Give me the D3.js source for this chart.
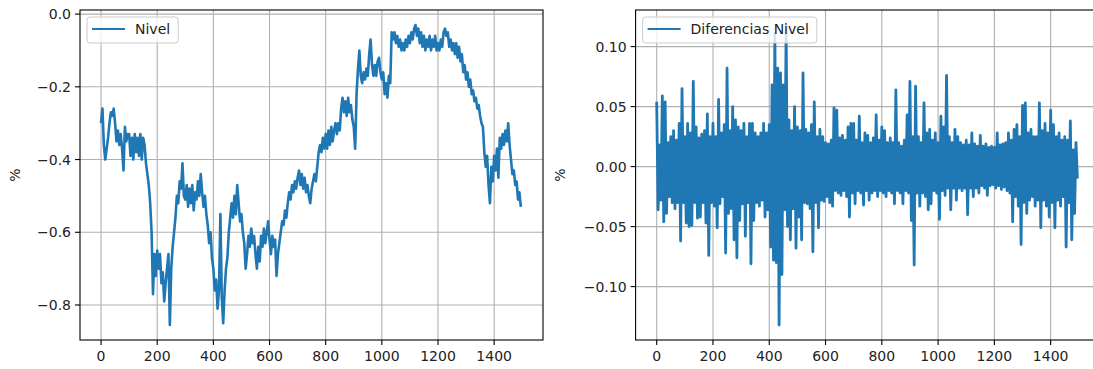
<!DOCTYPE html>
<html><head><meta charset="utf-8">
<script src="https://cdn.jsdelivr.net/npm/d3@7"></script>
<style>body{margin:0;background:#fff} text{font-family:"DejaVu Sans",sans-serif;fill:#222}</style>
</head><body><svg id="c" width="1093" height="369"></svg>
<script>
// sampling stride (observation index between consecutive values)
const STEP = 5;
const N_OBS = 1500;

const nivel = [
-0.30,-0.26,-0.36,-0.40,-0.37,-0.34,-0.30,-0.27,-0.28,-0.26,-0.30,-0.35,-0.32,-0.36,-0.33,-0.37,-0.43,-0.31,-0.35,-0.33,
-0.33,-0.39,-0.34,-0.40,-0.33,-0.38,-0.34,-0.39,-0.33,-0.40,-0.34,-0.36,-0.41,-0.44,-0.47,-0.52,-0.60,-0.77,-0.66,-0.72,
-0.65,-0.70,-0.66,-0.74,-0.71,-0.79,-0.74,-0.70,-0.66,-0.855,-0.70,-0.64,-0.60,-0.56,-0.50,-0.52,-0.46,-0.48,-0.41,-0.50,
-0.51,-0.47,-0.53,-0.48,-0.52,-0.47,-0.54,-0.49,-0.51,-0.46,-0.50,-0.44,-0.49,-0.53,-0.50,-0.55,-0.58,-0.63,-0.60,-0.67,
-0.70,-0.76,-0.73,-0.81,-0.76,-0.55,-0.78,-0.85,-0.76,-0.70,-0.67,-0.60,-0.56,-0.52,-0.56,-0.50,-0.55,-0.47,-0.52,-0.57,
-0.55,-0.60,-0.63,-0.70,-0.66,-0.61,-0.64,-0.59,-0.63,-0.61,-0.66,-0.70,-0.64,-0.68,-0.61,-0.64,-0.59,-0.63,-0.60,-0.57,
-0.62,-0.66,-0.61,-0.64,-0.62,-0.72,-0.66,-0.63,-0.60,-0.57,-0.58,-0.54,-0.56,-0.52,-0.49,-0.51,-0.47,-0.49,-0.46,-0.48,
-0.45,-0.43,-0.47,-0.44,-0.48,-0.45,-0.49,-0.47,-0.50,-0.52,-0.48,-0.46,-0.44,-0.46,-0.42,-0.38,-0.36,-0.38,-0.34,-0.37,
-0.33,-0.37,-0.32,-0.36,-0.31,-0.35,-0.32,-0.30,-0.33,-0.30,-0.32,-0.26,-0.23,-0.27,-0.24,-0.28,-0.23,-0.27,-0.25,-0.29,
-0.31,-0.37,-0.22,-0.15,-0.10,-0.17,-0.19,-0.16,-0.18,-0.15,-0.17,-0.11,-0.07,-0.14,-0.17,-0.14,-0.17,-0.13,-0.12,-0.16,
-0.18,-0.16,-0.22,-0.19,-0.23,-0.17,-0.19,-0.05,-0.07,-0.05,-0.08,-0.06,-0.09,-0.07,-0.10,-0.08,-0.10,-0.07,-0.09,-0.06,
-0.08,-0.05,-0.07,-0.04,-0.03,-0.06,-0.04,-0.08,-0.05,-0.09,-0.06,-0.10,-0.07,-0.09,-0.06,-0.10,-0.07,-0.09,-0.06,-0.10,
-0.08,-0.10,-0.07,-0.09,-0.05,-0.04,-0.06,-0.05,-0.09,-0.07,-0.10,-0.08,-0.11,-0.08,-0.12,-0.09,-0.13,-0.11,-0.16,-0.14,
-0.18,-0.16,-0.20,-0.18,-0.22,-0.21,-0.24,-0.23,-0.26,-0.25,-0.28,-0.30,-0.31,-0.38,-0.42,-0.39,-0.47,-0.52,-0.42,-0.46,
-0.39,-0.43,-0.37,-0.45,-0.34,-0.37,-0.33,-0.36,-0.32,-0.35,-0.30,-0.36,-0.40,-0.44,-0.43,-0.47,-0.46,-0.51,-0.49,-0.53
];

const diferencias = [
0.054,-0.036,0.018,-0.028,0.059,-0.046,0.054,-0.039,0.020,-0.025,0.025,-0.030,0.030,-0.035,0.022,-0.030,0.036,-0.062,0.065,-0.030,
0.025,-0.047,0.036,-0.050,0.028,-0.049,0.071,-0.030,0.033,-0.043,0.024,-0.042,0.027,-0.030,0.030,-0.047,0.044,-0.074,0.025,-0.030,
0.036,-0.033,0.025,-0.051,0.056,-0.031,0.028,-0.025,0.035,-0.072,0.082,-0.039,0.030,-0.035,0.050,-0.061,0.039,-0.076,0.033,-0.045,
0.030,-0.031,0.036,-0.058,0.025,-0.030,0.036,-0.081,0.036,-0.045,0.028,-0.030,0.025,-0.033,0.028,-0.028,0.036,-0.042,0.028,-0.036,
0.035,-0.067,0.068,-0.078,0.111,-0.080,0.082,-0.132,0.078,-0.090,0.068,-0.036,0.118,-0.050,0.039,-0.061,0.030,-0.035,0.050,-0.068,
0.033,-0.042,0.030,-0.061,0.078,-0.030,0.031,-0.031,0.028,-0.035,0.035,-0.071,0.054,-0.030,0.025,-0.051,0.031,-0.028,0.025,-0.029,
0.020,-0.025,0.019,-0.030,0.022,-0.033,0.049,-0.020,0.047,-0.022,0.024,-0.024,0.026,-0.020,0.022,-0.025,0.033,-0.042,0.036,-0.022,
0.036,-0.031,0.022,-0.020,0.042,-0.022,0.020,-0.032,0.028,-0.020,0.026,-0.028,0.020,-0.022,0.024,-0.020,0.043,-0.025,0.022,-0.020,
0.033,-0.022,0.030,-0.025,0.020,-0.020,0.024,-0.022,0.020,-0.031,0.064,-0.020,0.020,-0.022,0.017,-0.031,0.022,-0.020,0.043,-0.022,
0.071,-0.045,0.025,-0.082,0.067,-0.022,0.025,-0.033,0.020,-0.022,0.053,-0.025,0.028,-0.036,0.031,-0.031,0.022,-0.020,0.028,-0.022,
0.020,-0.044,0.042,-0.020,0.033,-0.024,0.076,-0.018,0.025,-0.036,0.020,-0.018,0.031,-0.028,0.025,-0.018,0.020,-0.020,0.018,-0.018,
0.022,-0.040,0.018,-0.018,0.028,-0.025,0.019,-0.018,0.017,-0.022,0.026,-0.016,0.017,-0.018,0.019,-0.024,0.016,-0.016,0.017,-0.015,
0.016,-0.018,0.028,-0.016,0.018,-0.019,0.019,-0.017,0.020,-0.020,0.028,-0.022,0.022,-0.046,0.031,-0.025,0.035,-0.033,0.025,-0.065,
0.051,-0.030,0.053,-0.039,0.028,-0.028,0.031,-0.025,0.025,-0.033,0.025,-0.028,0.053,-0.051,0.030,-0.028,0.036,-0.033,0.028,-0.042,
0.047,-0.030,0.035,-0.051,0.025,-0.028,0.028,-0.033,0.022,-0.025,0.025,-0.067,0.022,-0.030,0.038,-0.061,0.014,-0.039,0.020,-0.010
];

const xTicks = [0, 200, 400, 600, 800, 1000, 1200, 1400];
const xTickLabels = ["0", "200", "400", "600", "800", "1000", "1200", "1400"];
const nivelTicks = [0.0, -0.2, -0.4, -0.6, -0.8];
const nivelTickLabels = ["0.0", "\u22120.2", "\u22120.4", "\u22120.6", "\u22120.8"];
const difTicks = [0.10, 0.05, 0.00, -0.05, -0.10];
const difTickLabels = ["0.10", "0.05", "0.00", "\u22120.05", "\u22120.10"];

const svg = d3.select("#c");
svg.append("rect").attr("width", 1093).attr("height", 369).attr("fill", "#fff");

const COLOR = "#1f77b4";
const FS = 14;

function panel(opt) {
  const { x0, x1, y0, y1, values, yTicks, yLabels, legend, yLabelX, id, lw } = opt;
  const g = svg.append("g");
  const pad = 0.05 * (N_OBS - 1);
  const x = d3.scaleLinear().domain([-pad, N_OBS - 1 + pad]).range([x0, x1]);
  const [mn, mx] = d3.extent(values);
  const yp = 0.05 * (mx - mn);
  const y = d3.scaleLinear().domain([mn - yp, mx + yp]).range([y1, y0]);

  g.append("clipPath").attr("id", id).append("rect")
    .attr("x", x0).attr("y", y0).attr("width", x1 - x0).attr("height", y1 - y0);

  // grid
  const grid = g.append("g").attr("stroke", "#b0b0b0").attr("stroke-width", 1.1);
  grid.selectAll(".vx").data(xTicks).join("line")
    .attr("x1", d => x(d)).attr("x2", d => x(d)).attr("y1", y0).attr("y2", y1);
  grid.selectAll(".hy").data(yTicks).join("line")
    .attr("y1", d => y(d)).attr("y2", d => y(d)).attr("x1", x0).attr("x2", x1);

  // series
  const line = d3.line().x((d, i) => x(i * STEP)).y(d => y(d));
  g.append("path").datum(values)
    .attr("clip-path", `url(#${id})`)
    .attr("d", line).attr("fill", "none").attr("stroke", COLOR)
    .attr("stroke-width", lw).attr("stroke-linejoin", "round");

  // frame
  g.append("rect").attr("x", x0).attr("y", y0).attr("width", x1 - x0).attr("height", y1 - y0)
    .attr("fill", "none").attr("stroke", "#000").attr("stroke-width", 1.1);

  // x axis ticks
  const xa = g.append("g");
  xa.selectAll("line").data(xTicks).join("line")
    .attr("x1", d => x(d)).attr("x2", d => x(d)).attr("y1", y1).attr("y2", y1 + 5)
    .attr("stroke", "#000").attr("stroke-width", 1.1);
  xa.selectAll("text").data(xTicks).join("text")
    .attr("x", d => x(d)).attr("y", y1 + 21).attr("text-anchor", "middle")
    .attr("font-size", FS).text((d, i) => xTickLabels[i]);

  // y axis ticks
  const ya = g.append("g");
  ya.selectAll("line").data(yTicks).join("line")
    .attr("y1", d => y(d)).attr("y2", d => y(d)).attr("x1", x0 - 5).attr("x2", x0)
    .attr("stroke", "#000").attr("stroke-width", 1.1);
  ya.selectAll("text").data(yTicks).join("text")
    .attr("x", x0 - 9).attr("y", d => y(d)).attr("dy", "0.36em").attr("text-anchor", "end")
    .attr("font-size", FS).text((d, i) => yLabels[i]);

  // y label
  g.append("text").attr("transform", `translate(${yLabelX},${(y0 + y1) / 2}) rotate(-90)`)
    .attr("text-anchor", "middle").attr("font-size", FS).text("%");

  // legend
  const lg = g.append("g");
  const bx = x0 + 7, by = y0 + 7;
  const box = lg.append("rect").attr("x", bx).attr("y", by).attr("height", 26).attr("rx", 3)
    .attr("fill", "#fff").attr("fill-opacity", 0.8).attr("stroke", "#cccccc").attr("stroke-width", 1);
  lg.append("line").attr("x1", bx + 5).attr("x2", bx + 38).attr("y1", by + 12).attr("y2", by + 12)
    .attr("stroke", COLOR).attr("stroke-width", 2.2);
  const t = lg.append("text").attr("x", bx + 48).attr("y", by + 17).attr("font-size", FS).text(legend);
  const w = t.node().getComputedTextLength();
  box.attr("width", 48 + w + 8);
}

panel({ id: "clipA", x0: 80, x1: 543, y0: 10, y1: 340, values: nivel, lw: 2.6,
  yTicks: nivelTicks, yLabels: nivelTickLabels, legend: "Nivel", yLabelX: 20 });
panel({ id: "clipB", x0: 635.6, x1: 1099.6, y0: 10, y1: 340, values: diferencias, lw: 2.8,
  yTicks: difTicks, yLabels: difTickLabels, legend: "Diferencias Nivel", yLabelX: 565 });
</script></body></html>
